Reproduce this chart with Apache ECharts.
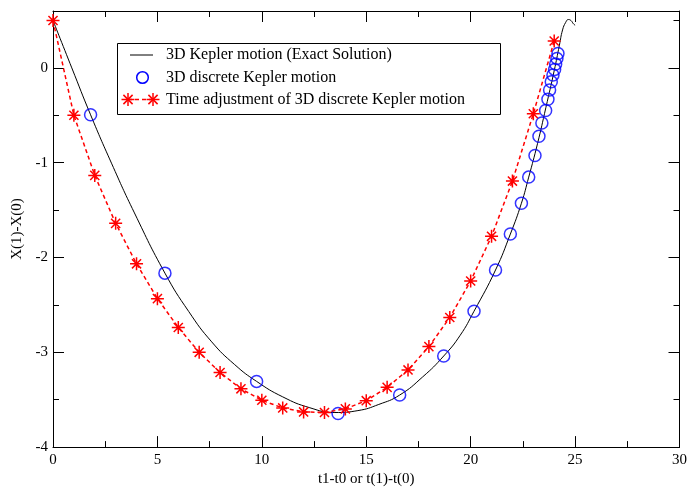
<!DOCTYPE html>
<html>
<head>
<meta charset="utf-8">
<script src="https://cdn.jsdelivr.net/npm/echarts@6/dist/echarts.min.js"></script>
<style>html,body{margin:0;padding:0;background:#fff}#c{width:690px;height:492px}</style>
</head>
<body>
<div id="c"></div>
<script>
// Exact solution curve (black)
const exactX = [0, 0.9, 1.8, 2.8, 3.9, 5.36, 6.5, 7.6, 8.7, 9.75, 11.0, 12.3, 13.5, 14.6, 15.6, 16.6, 17.7, 18.71, 19.5, 20.16, 21.19, 21.9, 22.43, 22.78, 23.2, 23.6, 24.0, 24.25, 24.4, 24.55, 24.68, 24.8, 24.92, 25.0];
const exactY = [0.5, 0.0, -0.495, -1.005, -1.53, -2.165, -2.57, -2.89, -3.13, -3.307, -3.47, -3.585, -3.635, -3.615, -3.55, -3.451, -3.26, -3.039, -2.82, -2.567, -2.132, -1.753, -1.428, -1.152, -0.80, -0.42, -0.03, 0.24, 0.40, 0.48, 0.51, 0.50, 0.465, 0.45];
// 3D discrete Kepler motion (blue circles)
const discreteX = [1.80, 5.36, 9.75, 13.65, 16.60, 18.71, 20.16, 21.19, 21.90, 22.43, 22.78, 23.08, 23.27, 23.41, 23.59, 23.70, 23.78, 23.86, 23.94, 24.02, 24.07, 24.13, 24.18];
const discreteY = [-0.495, -2.165, -3.307, -3.645, -3.451, -3.039, -2.567, -2.132, -1.753, -1.428, -1.152, -0.925, -0.722, -0.582, -0.450, -0.330, -0.233, -0.146, -0.075, -0.016, 0.040, 0.100, 0.152];
// Time adjustment (red stars)
const adjustX = [0, 1, 2, 3, 4, 5, 6, 7, 8, 9, 10, 11, 12, 13, 14, 15, 16, 17, 18, 19, 20, 21, 22, 23, 24];
const adjustY = [0.5, -0.5, -1.134, -1.64, -2.067, -2.434, -2.738, -3.0, -3.213, -3.385, -3.506, -3.587, -3.629, -3.635, -3.597, -3.51, -3.37, -3.186, -2.94, -2.633, -2.248, -1.777, -1.194, -0.484, 0.284];

const legendNames = ['3D Kepler motion (Exact Solution)', '3D discrete Kepler motion', 'Time adjustment of 3D discrete Kepler motion'];
const xName = 't1-t0 or t(1)-t(0)';
const yName = 'X(1)-X(0)';

const FONT = 'Liberation Serif';
const starPath = 'path://M0,-10L0,10M-10,0L10,0M-7,-7L7,7M-7,7L7,-7';

const zip = (a, b) => a.map((v, i) => [v, b[i]]);

const chart = echarts.init(document.getElementById('c'), null, {renderer: 'canvas'});

function xAx(pos, labels) {
  return {
    type: 'value', min: 0, max: 30, interval: 5, position: pos,
    axisLine: {show: true, onZero: false, lineStyle: {color: '#000', width: 1}},
    axisTick: {show: true, inside: true, length: 11, lineStyle: {color: '#000', width: 1}},
    minorTick: {show: true, splitNumber: 2, length: 6, lineStyle: {color: '#000', width: 1}},
    axisLabel: {show: labels, color: '#000', fontFamily: FONT, fontSize: 15, margin: 5},
    splitLine: {show: false},
    name: labels ? xName : '', nameLocation: 'middle', nameGap: 22,
    nameTextStyle: {color: '#000', fontFamily: FONT, fontSize: 15}
  };
}
function yAx(pos, interval, len, labels, line) {
  return {
    type: 'value', min: -4, max: 0.6, interval: interval, position: pos,
    axisLine: {show: line, onZero: false, lineStyle: {color: '#000', width: 1}},
    axisTick: {show: true, inside: true, length: len, lineStyle: {color: '#000', width: 1}},
    axisLabel: {show: labels, color: '#000', fontFamily: FONT, fontSize: 15, margin: 5, showMaxLabel: false},
    splitLine: {show: false},
    name: labels ? yName : '', nameLocation: 'middle', nameGap: 28, nameRotate: 90,
    nameTextStyle: {color: '#000', fontFamily: FONT, fontSize: 15}
  };
}

const LX = 117, LY = 43, LW = 383, LH = 71;
const rows = [55, 77.5, 99.5];
const graphic = [
  {type: 'rect', shape: {x: LX + 0.5, y: LY + 0.5, width: LW, height: LH}, style: {fill: '#fff', stroke: '#000', lineWidth: 1}, z: 100},
  {type: 'line', shape: {x1: 130, y1: rows[0], x2: 153, y2: rows[0]}, style: {stroke: '#000', lineWidth: 1}, z: 101},
  {type: 'circle', shape: {cx: 142.5, cy: rows[1], r: 5.8}, style: {fill: 'none', stroke: '#0000ff', lineWidth: 1.5}, z: 101},
  {type: 'line', shape: {x1: 128, y1: rows[2], x2: 153, y2: rows[2]}, style: {stroke: '#ff0000', lineWidth: 1.5, lineDash: [4, 3]}, z: 101}
];
[128, 153].forEach(cx => {
  const r = 6.5, d = 4.6, cy = rows[2];
  [[0, -r, 0, r], [-r, 0, r, 0], [-d, -d, d, d], [-d, d, d, -d]].forEach(s => {
    graphic.push({type: 'line', shape: {x1: cx + s[0], y1: cy + s[1], x2: cx + s[2], y2: cy + s[3]}, style: {stroke: '#ff0000', lineWidth: 1.5}, z: 101});
  });
});
legendNames.forEach((t, i) => {
  graphic.push({type: 'text', x: 166, y: rows[i], style: {text: t, fill: '#000', font: '16px "Liberation Serif"', textVerticalAlign: 'middle', verticalAlign: 'middle'}, z: 101});
});

chart.setOption({
  animation: false,
  backgroundColor: '#fff',
  grid: {left: 53, right: 10, top: 11, bottom: 43, containLabel: false},
  xAxis: [xAx('bottom', true), xAx('top', false)],
  yAxis: [yAx('left', 1, 11, true, true), yAx('left', 0.5, 6, false, false), yAx('right', 1, 11, false, true), yAx('right', 0.5, 6, false, false)],
  graphic: graphic,
  series: [
    {
      type: 'line', name: legendNames[0], data: zip(exactX, exactY), smooth: 0.5,
      showSymbol: false, symbol: 'none', lineStyle: {color: '#000', width: 1}, z: 2
    },
    {
      type: 'scatter', name: legendNames[1], data: zip(discreteX, discreteY),
      symbol: 'circle', symbolSize: 12,
      itemStyle: {color: 'rgba(0,0,0,0)', borderColor: '#0000ff', borderWidth: 1.5}, z: 3
    },
    {
      type: 'line', name: legendNames[2], data: zip(adjustX, adjustY), smooth: false,
      symbol: starPath, symbolSize: 13, showSymbol: true,
      lineStyle: {color: '#ff0000', width: 1.5, type: [4, 3]},
      itemStyle: {color: 'rgba(0,0,0,0)', borderColor: '#ff0000', borderWidth: 1.5}, z: 4
    }
  ]
});
</script>
</body>
</html>
